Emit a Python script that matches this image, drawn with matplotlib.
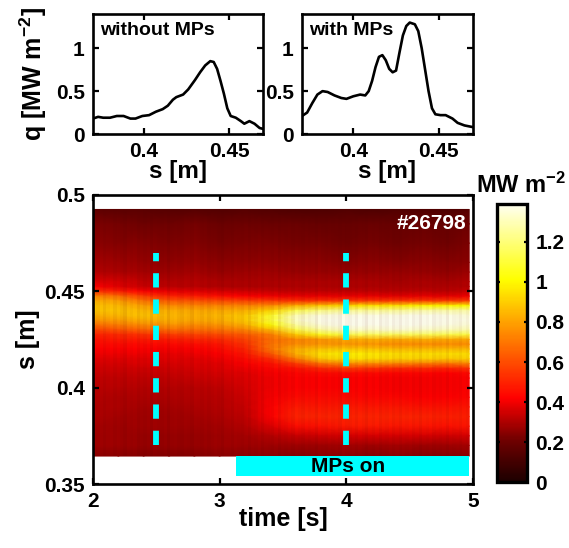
import numpy as np
import matplotlib
matplotlib.use('Agg')
import matplotlib.pyplot as plt
from matplotlib.colors import LinearSegmentedColormap

plt.rcParams['font.family'] = ['Liberation Sans', 'DejaVu Sans']
plt.rcParams['font.weight'] = 'bold'
plt.rcParams['axes.labelweight'] = 'bold'
plt.rcParams['mathtext.fontset'] = 'custom'
plt.rcParams['mathtext.rm'] = 'Liberation Sans:bold'
plt.rcParams['mathtext.bf'] = 'Liberation Sans:bold'
plt.rcParams['mathtext.default'] = 'rm'

W = 569
H = 548

# profile without MPs
s_without = [.370, .373, .376, .380, .384, .388, .392, .395, .399, .403, .407, .411, .414, .417,
             .419, .423, .426, .430, .433, .436, .439, .441, .443, .445, .447, .449, .451, .454,
             .457, .459, .462, .465, .468, .470]
q_without = [.18, .20, .19, .19, .21, .21, .18, .18, .21, .22, .26, .29, .33, .40,
             .43, .46, .52, .63, .72, .80, .85, .84, .76, .62, .47, .30, .21, .19,
             .15, .12, .15, .12, .07, .06]

# profile with MPs
s_with = [.370, .373, .376, .379, .382, .385, .389, .393, .396, .400, .404, .407, .409, .411,
          .413, .415, .417, .419, .421, .423, .425, .427, .429, .431, .433, .436, .438, .440,
          .442, .444, .446, .448, .451, .454, .458, .461, .465, .470]
q_with = [.21, .25, .36, .46, .50, .49, .45, .42, .41, .44, .46, .45, .50, .62,
          .78, .90, .92, .86, .76, .72, .74, .95, 1.15, 1.26, 1.30, 1.28, 1.20, 1.00,
          .75, .50, .30, .23, .22, .22, .18, .13, .10, .08]

# heat flux map
time_s = [2.0, 2.2, 2.4, 2.6, 2.8, 3.0, 3.2, 3.4, 3.6, 3.8, 4.0, 4.2, 4.4, 4.6, 4.8, 4.97]
s_map = [.4925, .485, .475, .465, .46, .455, .4525, .45, .4475, .445, .4425, .44, .4375, .435,
         .4325, .43, .4275, .425, .4225, .42, .4175, .415, .4125, .41, .4075, .405, .40, .395,
         .39, .385, .38, .375, .37, .3645]
q_map = [
    [.17, .16, .16, .15, .15, .14, .15, .14, .13, .13, .14, .13, .14, .13, .13, .15],
    [.23, .22, .21, .21, .22, .20, .21, .20, .20, .19, .19, .20, .19, .20, .19, .21],
    [.25, .24, .24, .23, .24, .22, .23, .23, .22, .22, .21, .22, .21, .22, .21, .23],
    [.29, .28, .27, .26, .27, .25, .26, .26, .25, .25, .24, .25, .24, .25, .24, .25],
    [.31, .30, .29, .28, .29, .27, .28, .28, .27, .27, .27, .27, .27, .27, .26, .28],
    [.37, .36, .33, .31, .32, .30, .30, .30, .30, .30, .30, .30, .29, .30, .29, .31],
    [.42, .38, .34, .32, .32, .30, .30, .30, .30, .30, .30, .30, .30, .30, .30, .31],
    [.54, .49, .42, .39, .38, .36, .35, .34, .33, .33, .33, .33, .32, .33, .32, .34],
    [.74, .68, .57, .50, .48, .45, .42, .40, .39, .39, .39, .39, .38, .39, .38, .40],
    [.84, .80, .70, .64, .62, .60, .58, .56, .54, .54, .55, .55, .55, .56, .56, .58],
    [.88, .86, .80, .76, .74, .74, .74, .76, .84, .90, .94, .96, .96, 1.00, 1.00, 1.02],
    [.88, .88, .86, .84, .82, .82, .84, .92, 1.14, 1.22, 1.25, 1.25, 1.25, 1.28, 1.28, 1.28],
    [.84, .86, .88, .86, .84, .86, .90, 1.07, 1.30, 1.36, 1.37, 1.37, 1.37, 1.38, 1.37, 1.35],
    [.78, .80, .84, .84, .82, .84, .90, 1.10, 1.33, 1.38, 1.39, 1.39, 1.39, 1.39, 1.38, 1.37],
    [.68, .72, .76, .78, .76, .78, .84, 1.02, 1.27, 1.36, 1.39, 1.38, 1.39, 1.38, 1.37, 1.35],
    [.58, .62, .66, .68, .68, .70, .74, .86, 1.13, 1.27, 1.33, 1.33, 1.35, 1.33, 1.31, 1.29],
    [.50, .52, .54, .56, .58, .60, .64, .72, .90, 1.06, 1.14, 1.16, 1.16, 1.16, 1.14, 1.12],
    [.46, .48, .48, .48, .50, .52, .58, .68, .74, .78, .82, .84, .82, .84, .82, .82],
    [.44, .44, .44, .44, .45, .47, .54, .70, .76, .78, .78, .78, .76, .76, .76, .76],
    [.42, .42, .42, .41, .42, .44, .50, .70, .84, .88, .90, .88, .86, .86, .86, .86],
    [.40, .40, .40, .39, .40, .42, .47, .62, .84, .96, .99, .97, .95, .95, .95, .95],
    [.38, .38, .38, .38, .38, .40, .44, .52, .72, .90, .96, .94, .92, .92, .90, .92],
    [.36, .36, .37, .36, .37, .38, .42, .46, .56, .70, .76, .76, .74, .72, .70, .74],
    [.35, .35, .35, .35, .36, .37, .40, .43, .46, .52, .56, .54, .52, .52, .50, .54],
    [.34, .34, .34, .34, .35, .36, .38, .41, .43, .44, .44, .44, .43, .43, .42, .44],
    [.33, .33, .33, .33, .34, .35, .37, .40, .42, .42, .42, .42, .41, .41, .41, .42],
    [.32, .32, .31, .31, .32, .33, .36, .40, .42, .42, .42, .42, .41, .41, .41, .42],
    [.31, .30, .30, .30, .31, .32, .35, .41, .44, .44, .44, .43, .43, .42, .42, .43],
    [.30, .30, .29, .29, .30, .31, .34, .42, .48, .47, .48, .47, .47, .46, .46, .47],
    [.30, .29, .28, .28, .29, .30, .33, .42, .50, .50, .50, .50, .50, .50, .49, .49],
    [.29, .28, .28, .28, .28, .29, .31, .37, .45, .46, .48, .48, .47, .47, .46, .47],
    [.28, .28, .27, .27, .27, .28, .29, .31, .34, .35, .36, .36, .36, .36, .35, .36],
    [.28, .28, .27, .27, .27, .28, .28, .28, .28, .28, .29, .28, .29, .28, .28, .29],
    [.25, .25, .24, .24, .24, .25, .25, .25, .24, .25, .25, .24, .25, .24, .24, .25],
]

# vertical streaks of the map, darkening per time column
streak = [.1, .4, .2, .7, .3, .1, .6, .2, .5, .9, .2, .4, .1, .7, .3, .6, .2, .8, .1, .4,
          .6, .2, .9, .3, .1, .5, .7, .2, .4, .8, .1, .3, .6, .2, .7, .4, .1, .5, .9, .2,
          .3, .7, .1, .4, .6, .2, .8, .3, .5, .1, .7, .2, .4, .6, .1, .8, .3, .5, .2, .6,
          .1, .4, .7, .2, .5, .3, .8, .1, .4, .6, .2, .5, .3, .7, .1, .4,
          .5, .2, .6, .1, .4, .8, .2, .5, .1, .7, .3, .5, .1, .6, .3, .7, .2, .4, .1, .6,
          .3, .8, .2, .4, .1, .6, .3, .5, .2, .7, .1, .4, .3, .6, .2, .5]

hot_map = LinearSegmentedColormap.from_list('hotish', [
    (0.0, '#1c0000'), (0.15, '#700000'), (0.30, '#ff0000'),
    (0.52, '#ff8000'), (0.73, '#ffff00'), (1.0, '#fffff0')])
streak_map = LinearSegmentedColormap.from_list('streak', [(0.3, 0, 0, 0), (0.3, 0, 0, 0.12)])


def pxAxes(fig, left, top, right, bottom):
    return fig.add_axes([left / W, 1 - bottom / H, (right - left) / W, (bottom - top) / H])


def styleAxes(ax, size=15):
    for sp in ax.spines.values():
        sp.set_linewidth(1.9)
    ax.tick_params(direction='in', top=True, right=True, width=1.6, length=4,
                   labelsize=size, pad=6)


fig = plt.figure(figsize=(W / 100, H / 100), dpi=100)

for left, right, s, q, label in [(93, 263, s_without, q_without, 'without MPs'),
                                 (302, 473, s_with, q_with, 'with MPs')]:
    ax = pxAxes(fig, left, 14, right, 134)
    ax.plot(s, q, color='k', lw=1.9)
    ax.set_xlim(0.37, 0.47)
    ax.set_ylim(0, 1.4)
    ax.set_xticks([0.4, 0.45], ['0.4', '0.45'])
    ax.set_yticks([0, 0.5, 1], ['0', '0.5', '1'])
    styleAxes(ax)
    ax.set_xlabel('s [m]', fontsize=17.5, labelpad=-1)
    ax.annotate(label, xy=(0, 1), xycoords='axes fraction', xytext=(5, -6),
                textcoords='offset points', fontsize=14, va='top', ha='left')
    if left == 93:
        ax.set_ylabel('q [MW m$^{-2}$]', fontsize=18, labelpad=5)

main = pxAxes(fig, 93, 195, 473, 484)
mesh = main.pcolormesh(time_s, s_map, np.array(q_map), cmap=hot_map, vmin=0, vmax=1.39,
                       shading='gouraud', zorder=1)
edges = np.linspace(time_s[0], time_s[-1], len(streak) + 1)
main.pcolormesh(edges, [s_map[-1], s_map[0]], np.array([streak]), cmap=streak_map,
                vmin=0, vmax=1, zorder=1.5)
main.plot([2.5, 2.5], [0.37, 0.47], color='#00ffff', lw=4.2, dashes=(2.45, 2.05), zorder=3)
main.plot([4, 4], [0.37, 0.47], color='#00ffff', lw=4.2, dashes=(2.45, 2.05), zorder=3)
main.fill_between([3.13, 4.97], 0.354, 0.3645, color='#00ffff', lw=0, zorder=2)
main.text(4.01, 0.3592, 'MPs on', fontsize=15, ha='center', va='center', zorder=4)
main.text(4.95, 0.485, '#26798', color='white', fontsize=15, ha='right', va='center', zorder=4)
main.set_xlim(2, 5)
main.set_ylim(0.35, 0.5)
main.set_xticks([2, 3, 4, 5], ['2', '3', '4', '5'])
main.set_yticks([0.35, 0.4, 0.45, 0.5], ['0.35', '0.4', '0.45', '0.5'])
styleAxes(main)
main.set_xlabel('time [s]', fontsize=18, labelpad=-3)
main.set_ylabel('s [m]', fontsize=18, labelpad=3)

cax = pxAxes(fig, 497, 204, 527, 482)
cbar = fig.colorbar(mesh, cax=cax)
cbar.set_ticks([0, 0.2, 0.4, 0.6, 0.8, 1, 1.2], labels=['0', '0.2', '0.4', '0.6', '0.8', '1', '1.2'])
cbar.outline.set_linewidth(2.4)
cax.tick_params(direction='in', left=True, right=True, width=1.6, length=2.5, labelsize=15, pad=6)
fig.text(476 / W, 1 - 185 / H, 'MW m$^{-2}$', fontsize=17, va='center', ha='left')

fig.savefig('out.png', dpi=100)
